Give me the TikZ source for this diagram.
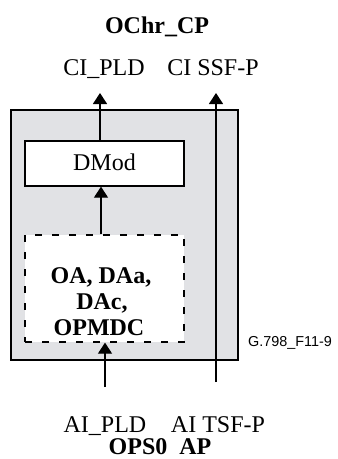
\documentclass[tikz,border=0pt]{standalone}
\usepackage{fontspec}
\setmainfont{Liberation Serif}
\newfontfamily\labelsans{Liberation Sans}
\usetikzlibrary{arrows.meta}
\definecolor{boxgray}{RGB}{225,226,229}
\tikzset{
  lbl/.style={font=\fontsize{24}{27}\selectfont, inner sep=0pt, anchor=base},
  blbl/.style={font=\fontsize{24}{27}\selectfont\bfseries, inner sep=0pt, anchor=base},
  flow/.style={line width=1.3pt, -{Triangle[width=14pt,length=11pt]}},
  outerbox/.style={draw, line width=1.3pt, fill=boxgray, inner sep=0pt},
  funcbox/.style={draw, line width=1.3pt, fill=white, inner sep=0pt},
  adaptbox/.style={draw, line width=1.3pt, fill=white, inner sep=0pt, dash pattern=on 7pt off 10pt}
}
\begin{document}
\begin{tikzpicture}[x=1pt,y=-1pt]
\useasboundingbox (0,0) rectangle (338,459);
% outer gray box
\node[outerbox, minimum width=227pt, minimum height=250pt] (outer) at (124.5,235) {};
% DMod box
\node[funcbox, minimum width=159pt, minimum height=45pt] (dmod) at (104.5,163.5) {};
\node[lbl] (dmodtext) at (104.5,170) {DMod};
% dashed adaptation box
\node[adaptbox, minimum width=159pt, minimum height=107pt] (adapt) at (104.5,288.5) {};
\node[blbl] (l1) at (101,283) {OA, DAa,};
\node[blbl] (l2) at (102,309) {DAc,};
\node[blbl] (l3) at (99,335) {OPMDC};
% labels
\node[blbl] (title) at (157,33) {OChr\_CP};
\node[lbl] (cipld) at (104,75) {CI\_PLD};
\node[lbl] (cissf) at (213,75) {CI SSF-P};
\node[lbl] (aipld) at (105,432) {AI\_PLD};
\node[lbl] (aitsf) at (218,432) {AI TSF-P};
\node[blbl] (bottomtitle) at (160,454) {OPS0\hspace{0.5em}AP};
\node[font=\labelsans\fontsize{14.4}{16}\selectfont, inner sep=0pt, anchor=base west] (figid) at (248,346) {G.798\_F11-9};
% connection points
\coordinate (topL) at (100,93);
\coordinate (topR) at (216,93);
\coordinate (botL) at (105,387);
\coordinate (botR) at (216,382);
% connectors
\draw[flow] (dmod.north -| topL) -- (topL);
\draw[flow] (adapt.north -| 101,0) -- (dmod.south -| 101,0);
\draw[flow] (botL) -- (adapt.south -| botL);
\draw[flow] (botR) -- (topR);
\end{tikzpicture}
\end{document}
